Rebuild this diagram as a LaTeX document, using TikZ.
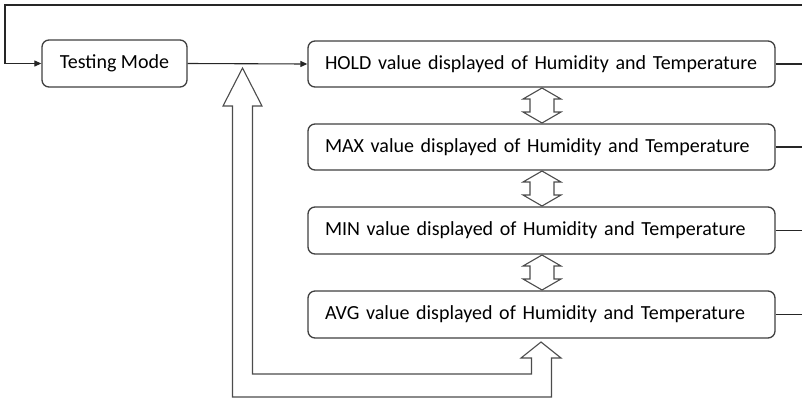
\documentclass[tikz,border=0pt]{standalone}
\usepackage{fontspec}
\setmainfont{Carlito}
\usetikzlibrary{arrows.meta}
\begin{document}
\begin{tikzpicture}[x=1pt,y=-1pt,
  box/.style={draw=black!75, line width=1.3pt, rounded corners=7pt, fill=white,
    minimum height=46pt, inner sep=0pt, font=\fontsize{20}{24}\selectfont},
  valbox/.style={box, minimum width=467pt, text width=433pt, align=left},
  conn/.style={draw=black!85, line width=1.1pt},
  arr/.style={conn, -{Triangle[length=7pt,width=6pt]}},
  blockarrow/.style={draw=black!70, line width=1.1pt, fill=white, line join=miter}]
\useasboundingbox (0,0) rectangle (802,400);
% boxes
\node[box, minimum width=145pt, minimum height=47pt] (test) at (114.5,63.5) {Testing Mode};
\node[valbox] (hold) at (541.5,64) {HOLD value displayed of Humidity and Temperature};
\node[valbox] (max) at (541.5,147) {MAX value displayed of Humidity and Temperature};
\node[valbox, minimum height=47pt] (min) at (541.5,230.5) {MIN value displayed of Humidity and Temperature};
\node[valbox, minimum height=47pt] (avg) at (541.5,314.5) {AVG value displayed of Humidity and Temperature};
% free ends
\coordinate (tr) at (802,5);
\coordinate (tl) at (5,5);
\coordinate (e1) at (802,64);
\coordinate (e2) at (802,147);
\coordinate (e3) at (802,230.5);
\coordinate (e4) at (802,314.5);
% connectors
\draw[arr] (tr) -- (tl) |- (test.west);
\draw[arr] (test.east) -- (hold.west);
\draw[conn] (hold.east) -- (e1);
\draw[conn] (max.east) -- (e2);
\draw[conn] (min.east) -- (e3);
\draw[conn] (avg.east) -- (e4);
% U-shaped feedback block arrow
\draw[blockarrow] (242.5,68) -- (262,106) -- (252.5,106) -- (252.5,374) -- (531.5,374)
  -- (531.5,358) -- (521,358) -- (541,342) -- (561,358) -- (551.5,358) -- (551.5,397)
  -- (232.5,397) -- (232.5,106) -- (223,106) -- cycle;
% up-down block arrows
\foreach \t/\b in {88/123, 171/206, 255/290}{
  \draw[blockarrow] (542,\t) -- (561,\t+11) -- (554,\t+11) -- (554,\b-11) -- (561,\b-11)
    -- (542,\b) -- (523,\b-11) -- (530,\b-11) -- (530,\t+11) -- (523,\t+11) -- cycle;
}
\end{tikzpicture}
\end{document}
